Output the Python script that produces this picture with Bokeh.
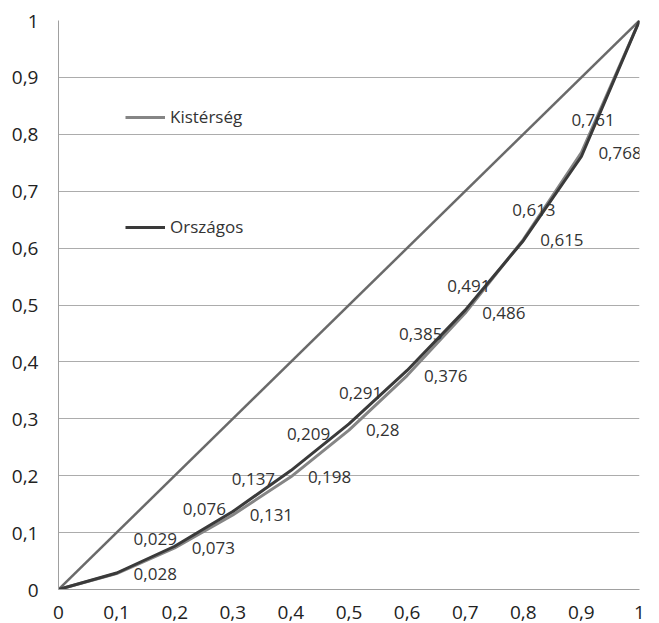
from bokeh.plotting import figure
from bokeh.models import (ColumnDataSource, LabelSet, Label, Legend, LegendItem,
                          FixedTicker, CustomJSTickFormatter)
from bokeh.core.properties import value
from bokeh.embed import file_html
from bokeh.resources import INLINE

# ---- data ----
x_vals = [0, 0.1, 0.2, 0.3, 0.4, 0.5, 0.6, 0.7, 0.8, 0.9, 1]
kisterseg = [0, 0.028, 0.073, 0.131, 0.198, 0.28, 0.376, 0.486, 0.615, 0.768, 1]
orszagos = [0, 0.029, 0.076, 0.137, 0.209, 0.291, 0.385, 0.491, 0.613, 0.761, 1]
equality = [0, 1]
ticks = [0, 0.1, 0.2, 0.3, 0.4, 0.5, 0.6, 0.7, 0.8, 0.9, 1]
series_names = ["Kistérség", "Országos"]

# label offsets (screen px) for the Országos data labels (points 0.1 .. 0.9)
orsz_xoff = [17, 8, -1, -4, -10, -8, -18, -11, -10]
orsz_yoff = [34, 37, 33, 37, 31, 36, 24, 31, 36]

def fmt(v):
    return str(v).replace('.', ',')

FONT = "Open Sans"
TXT = "#333333"

p = figure(width=659, height=623, x_range=(0, 1), y_range=(0, 1),
           output_backend="svg", toolbar_location=None,
           min_border_left=58, min_border_top=20, min_border_right=20,
           min_border_bottom=34)
p.outline_line_color = None
p.background_fill_color = "white"
p.border_fill_color = "white"

# grid
p.xgrid.grid_line_color = None
p.ygrid.grid_line_color = "#acacac"
p.ygrid.grid_line_width = 1
p.ygrid.ticker = FixedTicker(ticks=ticks)

x_fmt = CustomJSTickFormatter(code="""
var s = (Math.round(tick*10)/10).toString();
return s.replace('.', ',');
""")
# pad integer labels so the centred labels line up on the right like "0,9"
y_fmt = CustomJSTickFormatter(code="""
var s = (Math.round(tick*10)/10).toString();
if (s.indexOf('.') < 0) { s = '\\u2007\\u2008' + s; }
return s.replace('.', ',');
""")
for ax in (p.xaxis[0], p.yaxis[0]):
    ax.ticker = FixedTicker(ticks=ticks)
    ax.major_tick_line_color = None
    ax.minor_tick_line_color = None
    ax.major_tick_out = 0
    ax.major_tick_in = 0
    ax.minor_tick_out = 0
    ax.minor_tick_in = 0
    ax.axis_line_color = "#a0a0a0"
    ax.major_label_text_font = FONT
    ax.major_label_text_font_size = "19px"
    ax.major_label_text_color = "#222222"
p.xaxis[0].formatter = x_fmt
p.xaxis[0].major_label_standoff = 16
p.yaxis[0].formatter = y_fmt
p.yaxis[0].major_label_standoff = 20

# lines
p.line(equality, equality, line_color="#6a6a6a", line_width=2.5)
r_k = p.line(x_vals, kisterseg, line_color="#858585", line_width=3)
r_o = p.line(x_vals, orszagos, line_color="#3a3a3a", line_width=3)

# data labels
src_k = ColumnDataSource(dict(x=x_vals[1:-1], y=kisterseg[1:-1],
                              t=[fmt(v) for v in kisterseg[1:-1]]))
src_o = ColumnDataSource(dict(x=x_vals[1:-1], y=orszagos[1:-1],
                              t=[fmt(v) for v in orszagos[1:-1]],
                              xo=orsz_xoff, yo=orsz_yoff))
p.add_layout(LabelSet(x="x", y="y", text="t", source=src_k, x_offset=17, y_offset=0,
                      text_font=value(FONT), text_font_size=value("17px"),
                      text_color=value(TXT),
                      text_baseline=value("middle"), text_align=value("left")))
p.add_layout(LabelSet(x="x", y="y", text="t", source=src_o, x_offset="xo", y_offset="yo",
                      text_font=value(FONT), text_font_size=value("17px"),
                      text_color=value(TXT),
                      text_baseline=value("middle"), text_align=value("left")))
p.add_layout(Label(x=x_vals[-1], y=orszagos[-1], text=fmt(orszagos[-1]), x_offset=8,
                   text_font=FONT, text_font_size="17px", text_color="#111111",
                   text_baseline="middle", text_align="left"))

# legends
for name, rend, loc in ((series_names[0], r_k, (67, 461)), (series_names[1], r_o, (67, 351))):
    lg = Legend(items=[LegendItem(label=name, renderers=[rend])], location=loc,
                border_line_color=None, background_fill_alpha=0,
                padding=0, margin=0, glyph_width=40, label_standoff=5,
                label_text_font=FONT, label_text_font_size="17px", label_text_color=TXT)
    p.add_layout(lg, "center")

open("out.html", "w").write(file_html(p, INLINE))
